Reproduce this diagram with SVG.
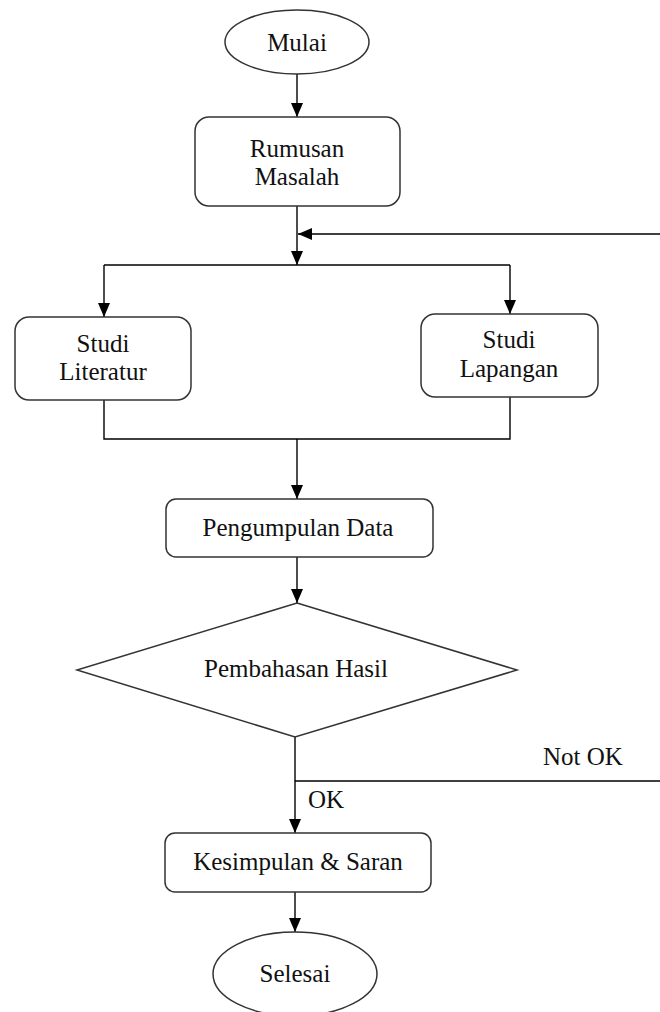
<svg xmlns="http://www.w3.org/2000/svg" width="660" height="1012" viewBox="0 0 660 1012">
<style>
.n{fill:#fff;stroke:#333;stroke-width:1.5}
.c{fill:none;stroke:#000;stroke-width:1.4}
.t{font-family:"Liberation Serif","Times New Roman",serif;font-size:25px;fill:#111;text-anchor:middle}
.l{font-family:"Liberation Serif","Times New Roman",serif;font-size:25px;fill:#111}
</style>
<defs>
<marker id="ah" markerUnits="userSpaceOnUse" markerWidth="14" markerHeight="12" refX="14" refY="6" orient="auto" viewBox="0 0 14 12">
<path d="M0,0 L14,6 L0,12 z" fill="#000"/>
</marker>
</defs>
<rect width="660" height="1012" fill="#fff"/>
<g id="connectors">
<line class="c" x1="297" y1="74" x2="297" y2="117" marker-end="url(#ah)"/>
<line class="c" x1="297" y1="206" x2="297" y2="265" marker-end="url(#ah)"/>
<line class="c" x1="660" y1="234" x2="298" y2="234" marker-end="url(#ah)"/>
<line class="c" x1="104" y1="265" x2="510" y2="265"/>
<line class="c" x1="104" y1="265" x2="104" y2="317" marker-end="url(#ah)"/>
<line class="c" x1="510" y1="265" x2="510" y2="314" marker-end="url(#ah)"/>
<polyline class="c" points="104,400 104,439 510,439 510,397"/>
<line class="c" x1="297" y1="439" x2="297" y2="499" marker-end="url(#ah)"/>
<line class="c" x1="297" y1="557" x2="297" y2="603" marker-end="url(#ah)"/>
<line class="c" x1="295" y1="737" x2="295" y2="833" marker-end="url(#ah)"/>
<line class="c" x1="295" y1="781" x2="660" y2="781"/>
<line class="c" x1="295" y1="892" x2="295" y2="932" marker-end="url(#ah)"/>
<text class="l" x="543" y="765">Not OK</text>
<text class="l" x="308" y="808">OK</text>
</g>
<g id="mulai">
<ellipse class="n" cx="297" cy="42" rx="72" ry="32"/>
<text class="t" x="297" y="51">Mulai</text>
</g>
<g id="rumusan">
<rect class="n" x="195" y="117" width="205" height="89" rx="14"/>
<text class="t" x="297" y="157">Rumusan</text>
<text class="t" x="297" y="185">Masalah</text>
</g>
<g id="literatur">
<rect class="n" x="15" y="317" width="176" height="83" rx="14"/>
<text class="t" x="103" y="352">Studi</text>
<text class="t" x="103" y="380">Literatur</text>
</g>
<g id="lapangan">
<rect class="n" x="421" y="314" width="177" height="83" rx="14"/>
<text class="t" x="509" y="348">Studi</text>
<text class="t" x="509" y="377">Lapangan</text>
</g>
<g id="pengumpulan">
<rect class="n" x="166" y="499" width="267" height="58" rx="10"/>
<text class="t" x="298" y="536">Pengumpulan Data</text>
</g>
<g id="pembahasan">
<polygon class="n" points="297,603 517,670 295,737 77,670"/>
<text class="t" x="296" y="677">Pembahasan Hasil</text>
</g>
<g id="kesimpulan">
<rect class="n" x="165" y="833" width="266" height="59" rx="10"/>
<text class="t" x="298" y="870">Kesimpulan &amp; Saran</text>
</g>
<g id="selesai">
<ellipse class="n" cx="295" cy="974" rx="82" ry="42"/>
<text class="t" x="295" y="982">Selesai</text>
</g>
</svg>
